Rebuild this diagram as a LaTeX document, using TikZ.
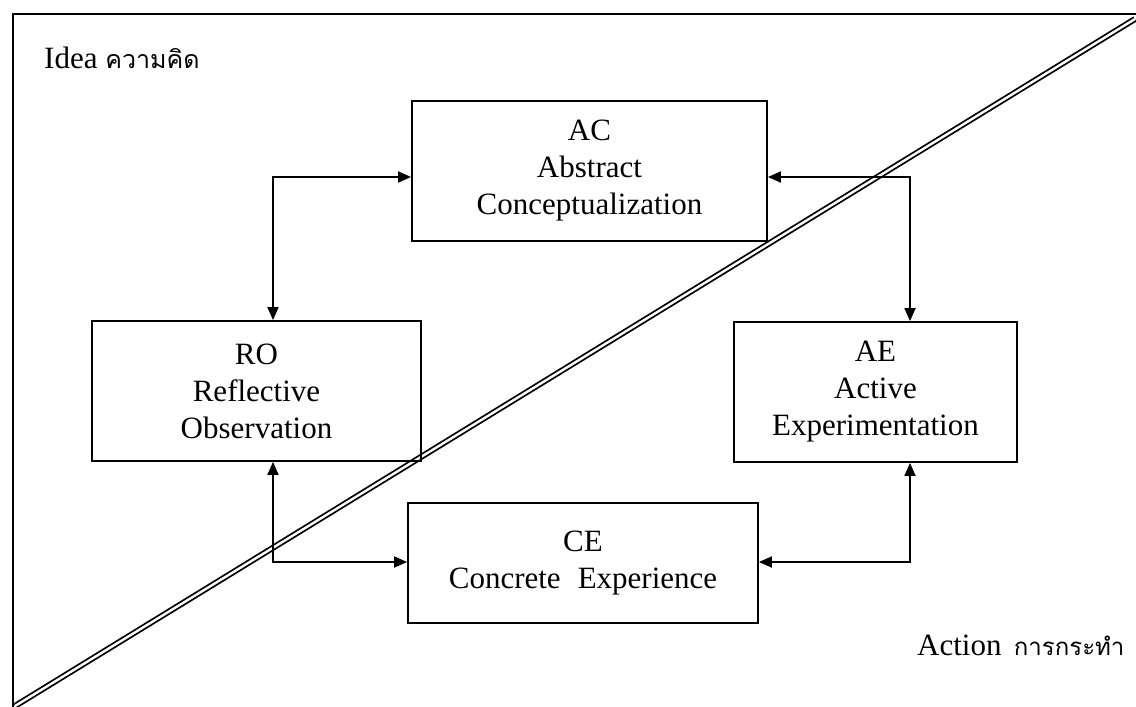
\documentclass[tikz,border=0pt]{standalone}
\usepackage{fontspec}
\setmainfont{Liberation Serif}
\newfontfamily\thaifont[Script=Thai]{Loma}
\usetikzlibrary{arrows.meta,positioning,calc}

\begin{document}
\begin{tikzpicture}[
    x=1pt,y=-1pt,
    stage/.style={rectangle,draw,line width=1.8pt,align=center,inner sep=0pt,font=\fontsize{31}{37}\selectfont},
    label/.style={anchor=base west,inner sep=0pt,font=\fontsize{31}{37}\selectfont},
    thai/.style={},
    bidir/.style={line width=1.8pt,{Triangle[length=13pt,width=11pt]}-{Triangle[length=13pt,width=11pt]}},
    divide/.style={double,line width=1.8pt,double distance=2.4pt}
]
    \useasboundingbox (0,0) rectangle (1136,707);

    % Frame
    \draw[line width=2pt] (13,707) -- (13,14) -- (1136,14);

    % Diagonal divider
    \coordinate (d1) at (15,706);
    \coordinate (d2) at (1135,19);
    \draw[divide] (d1) -- (d2);

    % Stages
    \node[stage,minimum width=355pt,minimum height=140pt] (ac) at (589.5,171) {AC\\Abstract\\Conceptualization};
    \node[stage,minimum width=329pt,minimum height=140pt] (ro) at (256.5,391) {RO\\Reflective\\Observation};
    \node[stage,minimum width=283pt,minimum height=140pt] (ae) at (875.5,392) {AE\\Active\\Experimentation};
    \node[stage,minimum width=350pt,minimum height=120pt] (ce) at (583,563) {CE\\Concrete\hspace{0.3em} Experience};

    % Cycle arrows
    \coordinate (k1) at (273,177);
    \coordinate (k2) at (910,562);
    \draw[bidir] (ro.north -| k1) |- (ac.west |- k1);
    \draw[bidir] (ac.east |- k1) -| (ae.north -| k2);
    \draw[bidir] (ro.south -| k1) |- (ce.west |- k2);
    \draw[bidir] (ce.east |- k2) -| (ae.south -| k2);

    % Region labels
    \node[label] (idea) at (44,68) {Idea {\thaifont\fontsize{25}{30}\selectfont ความคิด}};
    \node[label] (action) at (917,655) {Action\hspace{0.4em}{\thaifont\fontsize{24}{30}\selectfont การกระทำ}};
\end{tikzpicture}
\end{document}
